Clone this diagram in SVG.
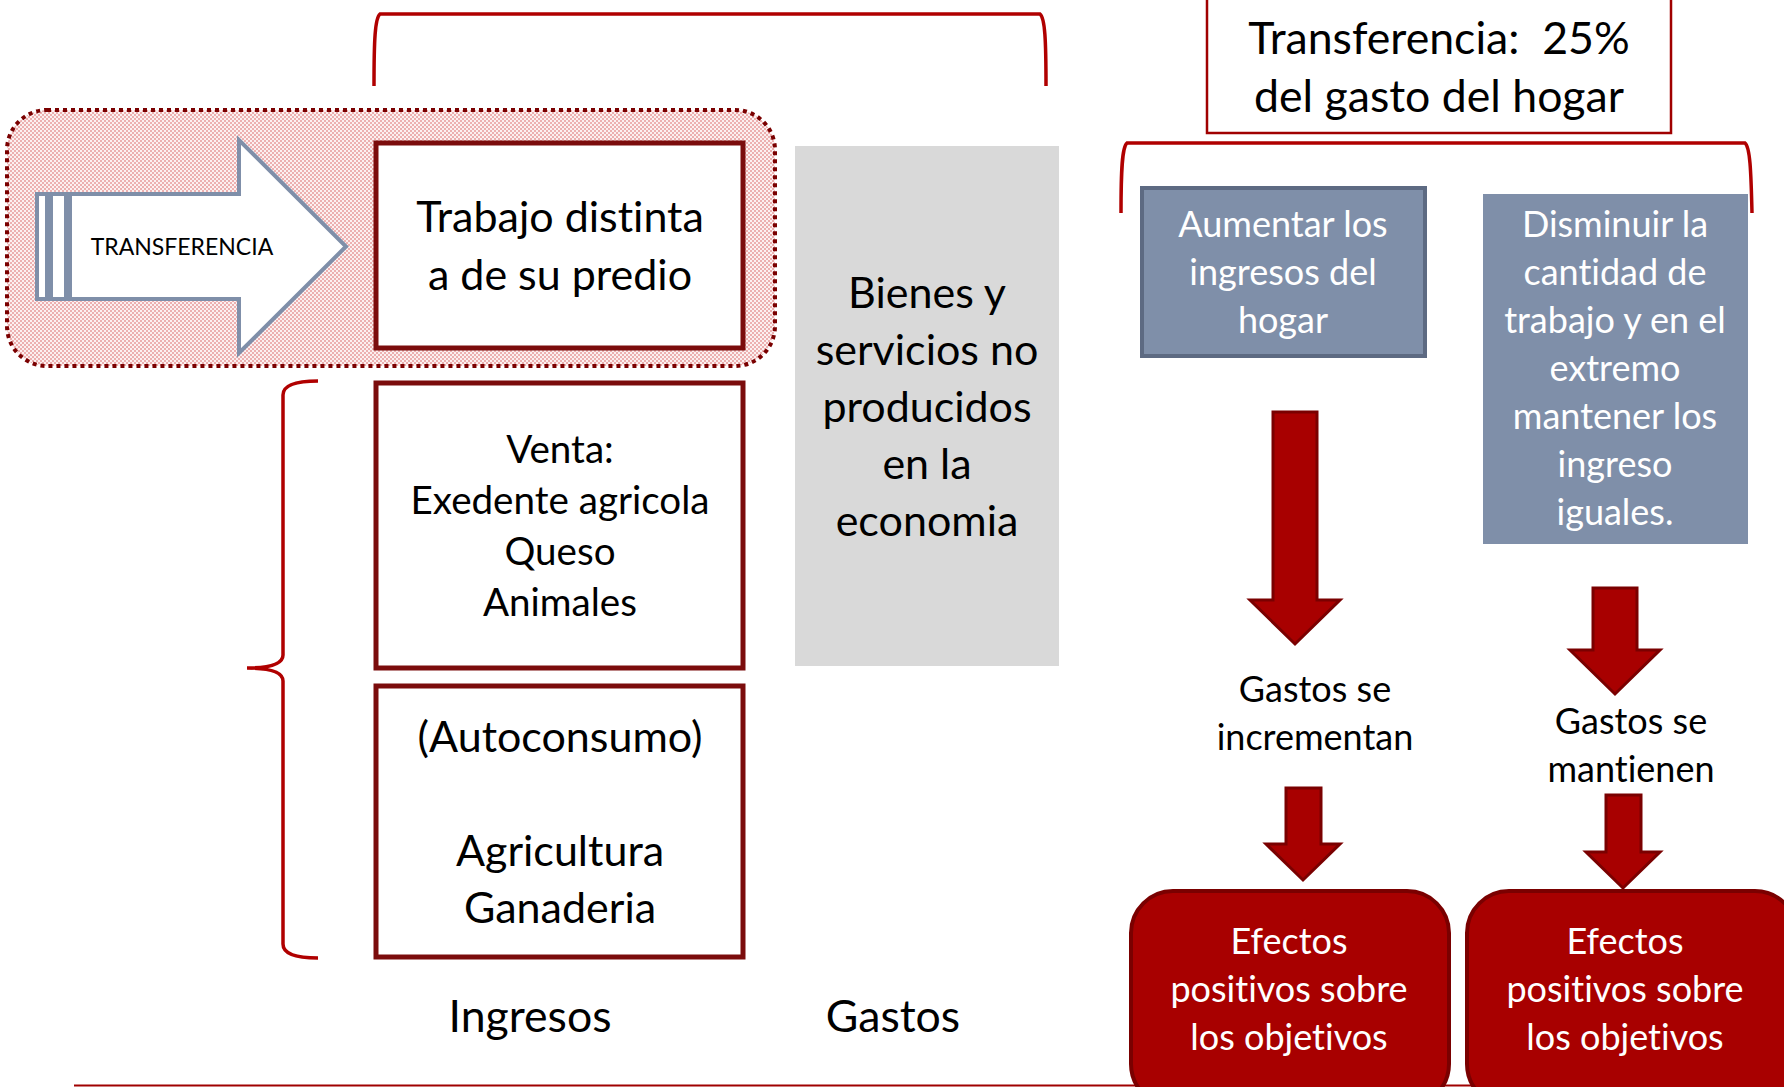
<svg xmlns="http://www.w3.org/2000/svg" width="1784" height="1087" viewBox="0 0 1784 1087">
<style>
text{font-family:Lato,"Liberation Sans",sans-serif;text-anchor:middle;font-variant-ligatures:none;}
.blk{fill:#000;}
.wht{fill:#fff;}
.f43{font-size:43px;}
.f39{font-size:38.6px;}
.f36{font-size:36px;}
.f45{font-size:44.6px;}
.box{fill:#fff;stroke:#7b0c0c;stroke-width:5;}
.brace{fill:none;stroke:#b00000;stroke-width:3.5;}
.redarrow{fill:#a80000;stroke:#7a0000;stroke-width:3;stroke-linejoin:miter;}
.redbox{fill:#a80000;stroke:#7a0000;stroke-width:4;}
.bluebox{fill:#7f8fa9;}
</style>
<defs>
<pattern id="dots" patternUnits="userSpaceOnUse" width="4" height="4">
<rect width="4" height="4" fill="#fcf0f0"/>
<rect x="0" y="0" width="2" height="2" fill="#ecb0b0"/>
<rect x="2" y="2" width="2" height="2" fill="#ecb0b0"/>
</pattern>
</defs>
<rect width="1784" height="1087" fill="#fff"/>

<g id="connectors">
<path class="brace" d="M374,86 C374,40 375,18 380,14 L1040,14 C1045,18 1046,40 1046,86"/>
<path class="brace" d="M1121,213 C1121,170 1122,147 1127,143 L1745,143 C1750,147 1751,170 1752,213"/>
<path class="brace" d="M318,381 Q283,381 283,395 L283,655 Q283,668 247,668 Q283,668 283,681 L283,944 Q283,958 318,958"/>
<line x1="74" y1="1085.5" x2="1784" y2="1085.5" stroke="#a00000" stroke-width="2"/>
<polygon class="redarrow" points="1273,412 1317,412 1317,600 1340,600 1295,644 1250,600 1273,600"/>
<polygon class="redarrow" points="1593,588 1637,588 1637,650 1660,650 1615,694 1570,650 1593,650"/>
<polygon class="redarrow" points="1286,788 1321,788 1321,844 1340,844 1303,880 1266,844 1286,844"/>
<polygon class="redarrow" points="1606,795 1641,795 1641,852 1660,852 1623,888 1586,852 1606,852"/>
</g>

<g id="transfer-group">
<rect x="7" y="110" width="768" height="256" rx="40" ry="40" fill="url(#dots)" stroke="#7a0000" stroke-width="4" stroke-dasharray="4 4"/>
</g>

<g id="transfer-arrow">
<rect x="37" y="194" width="10" height="105" fill="#fff" stroke="#7f8fa9" stroke-width="4"/>
<rect x="51" y="194" width="15" height="105" fill="#fff" stroke="#7f8fa9" stroke-width="4"/>
<path d="M70,194 L239,194 L239,140 L346,246.5 L239,353 L239,299 L70,299 Z" fill="#fff" stroke="#7f8fa9" stroke-width="4" stroke-linejoin="miter"/>
<text class="blk" x="182" y="255" style="font-size:23px">TRANSFERENCIA</text>
</g>

<g id="trabajo">
<rect class="box" x="376" y="143" width="367" height="205"/>
<text class="blk f43" x="560" y="232">Trabajo distinta</text>
<text class="blk f43" x="560" y="290">a de su predio</text>
</g>

<g id="venta">
<rect class="box" x="376" y="383" width="367" height="285"/>
<text class="blk f39" x="560" y="463">Venta:</text>
<text class="blk f39" x="560" y="514">Exedente agricola</text>
<text class="blk f39" x="560" y="565">Queso</text>
<text class="blk f39" x="560" y="616">Animales</text>
</g>

<g id="autoconsumo">
<rect class="box" x="376" y="686" width="367" height="271"/>
<text class="blk f43" x="560" y="752">(Autoconsumo)</text>
<text class="blk f43" x="560" y="866">Agricultura</text>
<text class="blk f43" x="560" y="923">Ganaderia</text>
</g>

<g id="bienes">
<rect x="795" y="146" width="264" height="520" fill="#d9d9d9"/>
<text class="blk f43" x="927" y="308">Bienes y</text>
<text class="blk f43" x="927" y="365">servicios no</text>
<text class="blk f43" x="927" y="422">producidos</text>
<text class="blk f43" x="927" y="479">en la</text>
<text class="blk f43" x="927" y="536">economia</text>
</g>

<g id="labels">
<text class="blk f45" x="530" y="1032">Ingresos</text>
<text class="blk f45" x="893" y="1032">Gastos</text>
</g>

<g id="transferencia-25">
<rect x="1207" y="-5" width="464" height="138" fill="#fff" stroke="#a00000" stroke-width="2.5"/>
<text class="blk f45" x="1439" y="54" style="white-space:pre">Transferencia:  25%</text>
<text class="blk f45" x="1439" y="112">del gasto del hogar</text>
</g>

<g id="aumentar">
<rect class="bluebox" x="1142" y="188" width="283" height="168" stroke="#5d6a82" stroke-width="4"/>
<text class="wht f36" x="1283" y="237">Aumentar los</text>
<text class="wht f36" x="1283" y="285">ingresos del</text>
<text class="wht f36" x="1283" y="333">hogar</text>
</g>

<g id="disminuir">
<rect class="bluebox" x="1483" y="194" width="265" height="350"/>
<text class="wht f36" x="1615" y="237">Disminuir la</text>
<text class="wht f36" x="1615" y="285">cantidad de</text>
<text class="wht f36" x="1615" y="333">trabajo y en el</text>
<text class="wht f36" x="1615" y="381">extremo</text>
<text class="wht f36" x="1615" y="429">mantener los</text>
<text class="wht f36" x="1615" y="477">ingreso</text>
<text class="wht f36" x="1615" y="525">iguales.</text>
</g>

<g id="gastos-incrementan">
<text class="blk f36" x="1315" y="702">Gastos se</text>
<text class="blk f36" x="1315" y="750">incrementan</text>
</g>

<g id="gastos-mantienen">
<text class="blk f36" x="1631" y="734">Gastos se</text>
<text class="blk f36" x="1631" y="782">mantienen</text>
</g>

<g id="efectos-1">
<rect class="redbox" x="1131" y="891" width="318" height="215" rx="42" ry="42"/>
<text class="wht f36" x="1289" y="954">Efectos</text>
<text class="wht f36" x="1289" y="1002">positivos sobre</text>
<text class="wht f36" x="1289" y="1050">los objetivos</text>
</g>

<g id="efectos-2">
<rect class="redbox" x="1467" y="891" width="330" height="215" rx="42" ry="42"/>
<text class="wht f36" x="1625" y="954">Efectos</text>
<text class="wht f36" x="1625" y="1002">positivos sobre</text>
<text class="wht f36" x="1625" y="1050">los objetivos</text>
</g>
</svg>
